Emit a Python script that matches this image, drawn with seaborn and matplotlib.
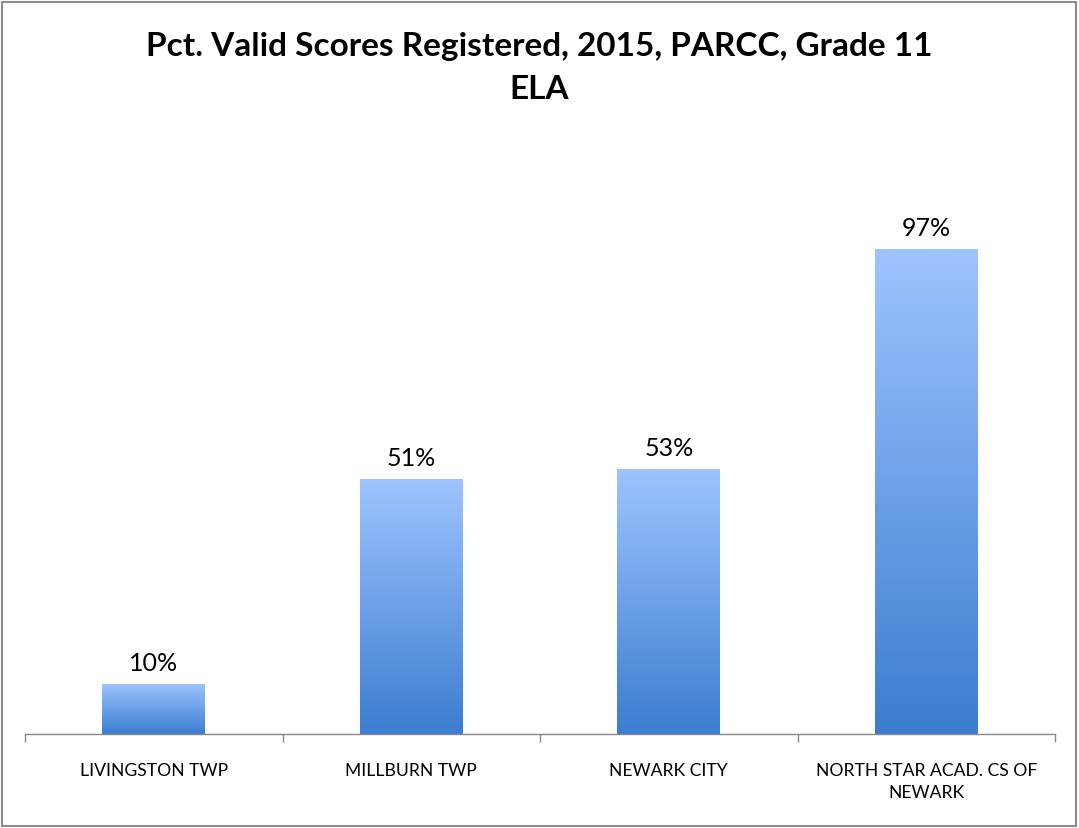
import numpy as np
import pandas as pd
import matplotlib
matplotlib.use("Agg")
import matplotlib.pyplot as plt
import seaborn as sns
from matplotlib.colors import LinearSegmentedColormap
from matplotlib.patches import Rectangle

#----------DATA------------#
districts = ["LIVINGSTON TWP", "MILLBURN TWP", "NEWARK CITY", "NORTH STAR ACAD. CS OF\nNEWARK"]
pct_valid = [0.10, 0.51, 0.53, 0.97]
title_text = "Pct. Valid Scores Registered, 2015, PARCC, Grade 11\nELA"

df = pd.DataFrame({"district": districts, "pct": pct_valid})

#----------STYLE-----------#
sns.set_theme(style="white")
plt.rcParams["font.family"] = ["Lato", "DejaVu Sans"]

W, H = 1079, 829
fig = plt.figure(figsize=(W / 100, H / 100), dpi=100)
ax = fig.add_axes([25 / W, (H - 735) / H, (1055 - 25) / W, (735 - 135) / H])

sns.barplot(data=df, x="district", y="pct", width=0.4, color="#4a8ad8", ax=ax)

#----------GRADIENT BARS---#
grad = LinearSegmentedColormap.from_list("bar", ["#3b7dd0", "#9ec4ff"])
for patch in ax.patches:
    x0, y0 = patch.get_x(), patch.get_y()
    w, h = patch.get_width(), patch.get_height()
    img = np.linspace(0, 1, 256).reshape(-1, 1)
    im = ax.imshow(img, cmap=grad, origin="lower", aspect="auto",
                   extent=[x0, x0 + w, y0, y0 + h], zorder=2)
    im.set_clip_path(patch)
    patch.set_facecolor("none")
    patch.set_edgecolor("none")

for i, v in enumerate(pct_valid):
    ax.text(i, v + 0.02, f"{v:.0%}", ha="center", va="bottom", fontsize=18, color="black")

ax.set_xlim(-0.5, len(districts) - 0.5)
ax.set_ylim(0, 1.2)
ax.set_xlabel("")
ax.set_ylabel("")
ax.set_yticks([])
ax.set_xticks(np.arange(-0.5, len(districts), 1.0))
ax.set_xticklabels([])
ax.set_xticks(range(len(districts)), minor=True)
ax.set_xticklabels(districts, minor=True, fontsize=12.6, color="black", linespacing=1.5)
ax.tick_params(axis="x", which="major", direction="out", length=6, width=1, color="#888888", bottom=True)
ax.tick_params(axis="x", which="minor", length=0, pad=20)
for s in ["top", "right", "left"]:
    ax.spines[s].set_visible(False)
ax.spines["bottom"].set_color("#888888")
ax.spines["bottom"].set_linewidth(1)

fig.text(0.5, 1 - 32 / H, title_text, ha="center", va="top", fontsize=24,
         fontweight="bold", color="black", linespacing=1.6)

fig.patches.append(Rectangle((2 / W, 2 / H), 1 - 5 / W, 1 - 5 / H, transform=fig.transFigure,
                             fill=False, edgecolor="#8c8c8c", linewidth=1.5))

fig.savefig("out.png", dpi=100)
